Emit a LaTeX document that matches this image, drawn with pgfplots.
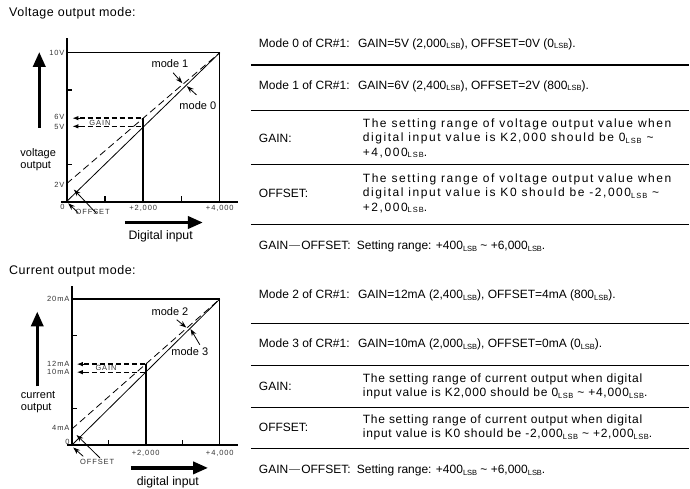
\documentclass[border=0pt]{standalone}
\usepackage{pgfplots}
\pgfplotsset{compat=1.18}
\usepackage{fontspec}
\setmainfont{Liberation Sans}
\newfontfamily\trk[LetterSpace=13]{Liberation Sans}
\newfontfamily\trkc[LetterSpace=6]{Liberation Sans}
\newfontfamily\ctrk[LetterSpace=12]{Liberation Sans}
\newfontfamily\ttl[LetterSpace=4]{Liberation Sans}
\usetikzlibrary{arrows.meta}

\newcommand\lsb{\raisebox{-1.8pt}{\fontsize{7.5}{8}\selectfont LSB}}
\newcommand\gdash{\kern1pt\textcolor{black!55}{\rule[3.4pt]{11pt}{1pt}}\kern1pt}
\newcommand\row[3]{\node[anchor=west,inner sep=0pt] at (#1,{489-#2}) {#3};}
\newcommand\rul[1]{\draw[line width=1.2pt] (251,{489-#1}) -- (690,{489-#1});}

\tikzset{
  lbl/.style={font=\fontsize{7.5}{8}\selectfont\ctrk, text=black!80, inner sep=1pt},
  md/.style={font=\fontsize{11}{12}\selectfont, inner sep=1pt},
  thin arr/.style={line width=0.8pt, -{Stealth[length=7pt,width=5pt]}},
  big arr/.style={line width=3.5pt, -{Triangle[length=15pt,width=12pt]}},
  gain arr/.style={line width=1pt, -{Latex[length=6pt,width=4.5pt]}},
}

\begin{document}
\begin{tikzpicture}[x=1pt,y=1pt]
\path (0,0) rectangle (690,489);
\fontsize{12}{14}\selectfont

% ---------- voltage output mode ----------
\node[anchor=west,inner sep=0pt,font=\fontsize{12.5}{14}\selectfont\ttl] at (9,{489-13}) {Voltage output mode:};

\begin{scope}[shift={(66.7,287.3)}]
\begin{axis}[
  anchor=origin,
  scale only axis, width=153.3pt, height=149pt,
  xmin=0, xmax=4000, ymin=0, ymax=10,
  hide axis, clip=false,
]
% mode 0 and mode 1
\addplot[black, line width=0.8pt] coordinates {(0,0) (4000,10)};
\addplot[black, line width=0.8pt, dash pattern=on 7pt off 4pt] coordinates {(0,1.2) (4000,10)};

\draw[line width=1.3pt] (0,10) -- (4000,10) -- (4000,0);
\draw[line width=2pt] (0,0) -- (0,11);
\draw[line width=2pt] (-150,0) -- (4470,0);
\draw[line width=1.3pt] (0,2.5) -- (130,2.5) (0,7.5) -- (130,7.5)
  (1000,0) -- (1000,0.34) (3000,0) -- (3000,0.34);

\draw[line width=1.6pt] (2000,0) -- (2000,5.6);
\draw[line width=1.5pt, dash pattern=on 5pt off 3pt] (340,5.6) -- (2000,5.6) (340,5.05) -- (2000,5.05);
\draw[gain arr] (360,5.6) -- (150,5.6);
\draw[gain arr] (360,5.05) -- (150,5.05);
\node[lbl] at (870,5.3) {GAIN};

\node[lbl, anchor=east, xshift=-1pt] at (0,10) {10V};
\node[lbl, anchor=east, xshift=-1pt] at (0,5.65) {6V};
\node[lbl, anchor=east, xshift=-1pt] at (0,5.0) {5V};
\node[lbl, anchor=east, xshift=-1pt] at (0,1.1) {2V};
\node[lbl, anchor=east, xshift=-1pt, yshift=-5pt] at (0,0) {0};
\node[lbl, anchor=north, yshift=-3pt] at (2000,0) {+2,000};
\node[lbl, anchor=north, yshift=-3pt] at (4000,0) {+4,000};
\node[lbl] at (680,-0.7) {OFFSET};

\draw[thin arr] (780,-0.8) -- (190,0.8);
\draw[thin arr] (300,-0.75) -- (40,-0.12);

\node[md] at (2700,9.26) {mode 1};
\draw[thin arr] (2780,8.65) -- (3020,7.95);
\node[md] at (3426,6.42) {mode 0};
\draw[thin arr] (3392,7.16) -- (3140,7.75);

\draw[big arr] (-715,4.95) -- (-715,10.05);
\draw[big arr] (1523,-1.41) -- (3560,-1.41);
\node[md, anchor=west, align=left] at (-1237,2.8) {voltage\\output};
\node[md, font=\fontsize{12.3}{13}\selectfont] at (2455,-2.37) {Digital input};
\end{axis}
\end{scope}

% voltage table
\row{259}{44}{Mode 0 of CR\#1:\hspace{4pt} GAIN=5V (2,000\lsb), OFFSET=0V (0\lsb).}
\rul{65}
\row{259}{86}{Mode 1 of CR\#1:\hspace{4pt} GAIN=6V (2,400\lsb), OFFSET=2V (800\lsb).}
\rul{111}
\row{259}{139}{GAIN:}
\row{363}{125}{\trk The setting range of voltage output value when}
\row{363}{139}{\trk digital input value is K2,000 should be 0\lsb\ \textasciitilde}
\row{363}{153}{\trk +4,000\lsb.}
\rul{165}
\row{259}{194}{OFFSET:}
\row{363}{180}{\trk The setting range of voltage output value when}
\row{363}{194}{\trk digital input value is K0 should be -2,000\lsb\ \textasciitilde}
\row{363}{208}{\trk +2,000\lsb.}
\rul{225}
\row{259}{247}{GAIN\gdash OFFSET:\hspace{3pt} Setting range: +400\lsb\ \textasciitilde\ +6,000\lsb.}

% ---------- current output mode ----------
\node[anchor=west,inner sep=0pt,font=\fontsize{12.5}{14}\selectfont\ttl] at (9,{489-272}) {Current output mode:};

\begin{scope}[shift={(71.7,43.3)}]
\begin{axis}[
  anchor=origin,
  scale only axis, width=148.3pt, height=146.4pt,
  xmin=0, xmax=4000, ymin=0, ymax=20,
  hide axis, clip=false,
]
% mode 3 and mode 2
\addplot[black, line width=0.8pt] coordinates {(0,0) (4000,20)};
\addplot[black, line width=0.8pt, dash pattern=on 7pt off 4pt] coordinates {(0,2.2) (4000,20)};

\draw[line width=1.3pt] (0,20) -- (4000,20) -- (4000,0);
\draw[line width=2pt] (0,0) -- (0,21.8);
\draw[line width=2pt] (-135,0) -- (4485,0);
\draw[line width=1.3pt] (0,5) -- (135,5) (0,15) -- (135,15)
  (1000,0) -- (1000,0.68) (3000,0) -- (3000,0.68);

\draw[line width=1.6pt] (2000,0) -- (2000,11.1);
\draw[line width=1.5pt, dash pattern=on 5pt off 3pt] (330,11.1) -- (2000,11.1);
\draw[line width=0.9pt, dash pattern=on 5pt off 3pt] (330,10) -- (2000,10);
\draw[gain arr] (350,11.1) -- (140,11.1);
\draw[gain arr] (350,10) -- (140,10);
\node[lbl] at (928,10.57) {GAIN};

\node[lbl, anchor=east, xshift=-1pt] at (0,20) {20mA};
\node[lbl, anchor=east, xshift=-1pt] at (0,11.2) {12mA};
\node[lbl, anchor=east, xshift=-1pt] at (0,10) {10mA};
\node[lbl, anchor=east, xshift=-1pt] at (0,2.4) {4mA};
\node[lbl, anchor=east, xshift=-1pt, yshift=3pt] at (0,0) {0};
\node[lbl, anchor=north, yshift=-4pt] at (2000,0) {+2,000};
\node[lbl, anchor=north, yshift=-4pt] at (4000,0) {+4,000};
\node[lbl] at (690,-2.3) {OFFSET};

\draw[thin arr] (763,-1.72) -- (135,1.4);
\draw[thin arr] (313,-1.5) -- (43,-0.3);

\node[md] at (2656,18.3) {mode 2};
\draw[thin arr] (2837,17.17) -- (3095,16.1);
\node[md] at (3190,12.84) {mode 3};
\draw[thin arr] (3460,13.76) -- (3210,15.9);

\draw[big arr] (-928,8.06) -- (-928,18.3);
\draw[big arr] (1602,-3.09) -- (3684,-3.09);
\node[md, anchor=west, align=left] at (-1400,5.97) {current\\output};
\node[md, inner sep=0pt, font=\fontsize{12.3}{13}\selectfont] at (2597,-5.03) {digital input};
\end{axis}
\end{scope}

% current table
\row{259}{296}{Mode 2 of CR\#1:\hspace{4pt} GAIN=12mA (2,400\lsb), OFFSET=4mA (800\lsb).}
\rul{324}
\row{259}{345}{Mode 3 of CR\#1:\hspace{4pt} GAIN=10mA (2,000\lsb), OFFSET=0mA (0\lsb).}
\rul{366}
\row{259}{387}{GAIN:}
\row{363}{380}{\trkc The setting range of current output when digital}
\row{363}{394}{\trkc input value is K2,000 should be 0\lsb\ \textasciitilde\ +4,000\lsb.}
\rul{408}
\row{259}{428}{OFFSET:}
\row{363}{421}{\trkc The setting range of current output when digital}
\row{363}{435}{\trkc input value is K0 should be -2,000\lsb\ \textasciitilde\ +2,000\lsb.}
\rul{449}
\row{259}{471}{GAIN\gdash OFFSET:\hspace{3pt} Setting range: +400\lsb\ \textasciitilde\ +6,000\lsb.}
\end{tikzpicture}
\end{document}
